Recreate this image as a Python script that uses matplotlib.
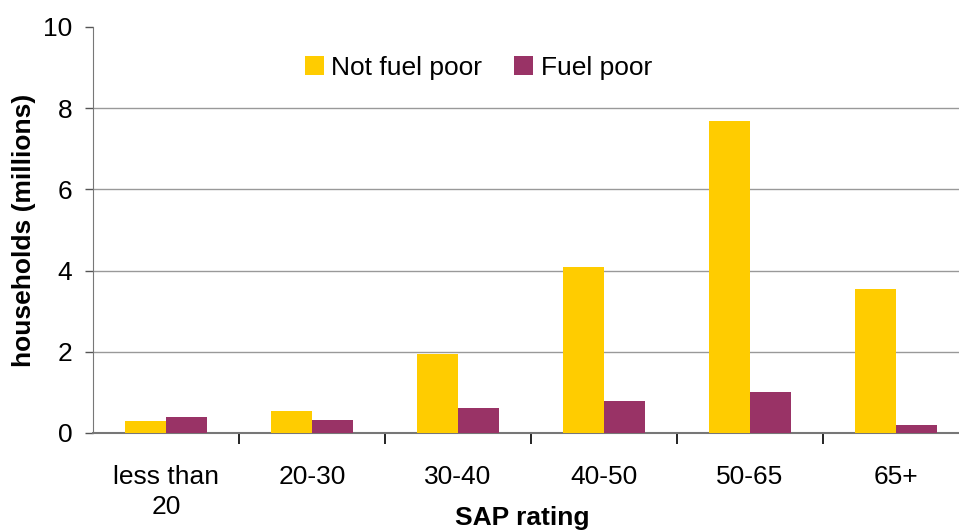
import numpy as np
import matplotlib.pyplot as plt

# ------------------------
# Data
# ------------------------
categories = ["less than\n20", "20-30", "30-40", "40-50", "50-65", "65+"]
not_fuel_poor = [0.30, 0.54, 1.95, 4.08, 7.68, 3.55]
fuel_poor = [0.39, 0.32, 0.62, 0.79, 1.01, 0.20]

YELLOW = "#FFCC00"
PURPLE = "#993366"
FS = 19

plt.rcParams["font.family"] = ["Liberation Sans", "DejaVu Sans"]

fig = plt.figure(figsize=(9.59, 5.30), dpi=100)
ax = fig.add_axes([93 / 959, 97 / 530, 876 / 959, 406 / 530])

x = np.arange(len(categories))
w = 0.28
ax.bar(x - w / 2, not_fuel_poor, w, color=YELLOW, label="Not fuel poor", zorder=3)
ax.bar(x + w / 2, fuel_poor, w, color=PURPLE, label="Fuel poor", zorder=3)

ax.set_xlim(-0.5, len(categories) - 0.5)
ax.set_ylim(0, 10)
ax.set_yticks([0, 2, 4, 6, 8, 10])
ax.tick_params(axis="y", labelsize=FS, length=6, width=1, color="#555555", pad=9)

# category labels without ticks, boundary ticks as minor
ax.set_xticks(x)
ax.set_xticklabels(categories, fontsize=FS, linespacing=1.3)
ax.tick_params(axis="x", which="major", length=0, pad=23)
ax.set_xticks(np.arange(0.5, len(categories) - 0.5), minor=True)
ax.tick_params(axis="x", which="minor", length=8, width=1.2, color="black")

# gridlines at 2..8 only (no line at the top)
for yv in [2, 4, 6, 8]:
    ax.axhline(yv, color="#999999", linewidth=1, zorder=1)
for s in ["top", "right"]:
    ax.spines[s].set_visible(False)
ax.spines["left"].set_color("#777777")
ax.spines["bottom"].set_color("#777777")
ax.spines["bottom"].set_linewidth(1.5)

ax.set_ylabel("households (millions)", fontsize=FS, fontweight="bold", labelpad=5)
# x label sits beside the second line of "less than 20"
fig.text(522 / 959, 5 / 530, "SAP rating", fontsize=FS, fontweight="bold",
         ha="center", va="baseline")

ax.legend(loc="center", bbox_to_anchor=(0.44, 0.90), ncol=2, frameon=False,
          fontsize=FS, handlelength=0.7, handleheight=0.7, handletextpad=0.3,
          columnspacing=1.2)

fig.savefig("out.png", dpi=100)
